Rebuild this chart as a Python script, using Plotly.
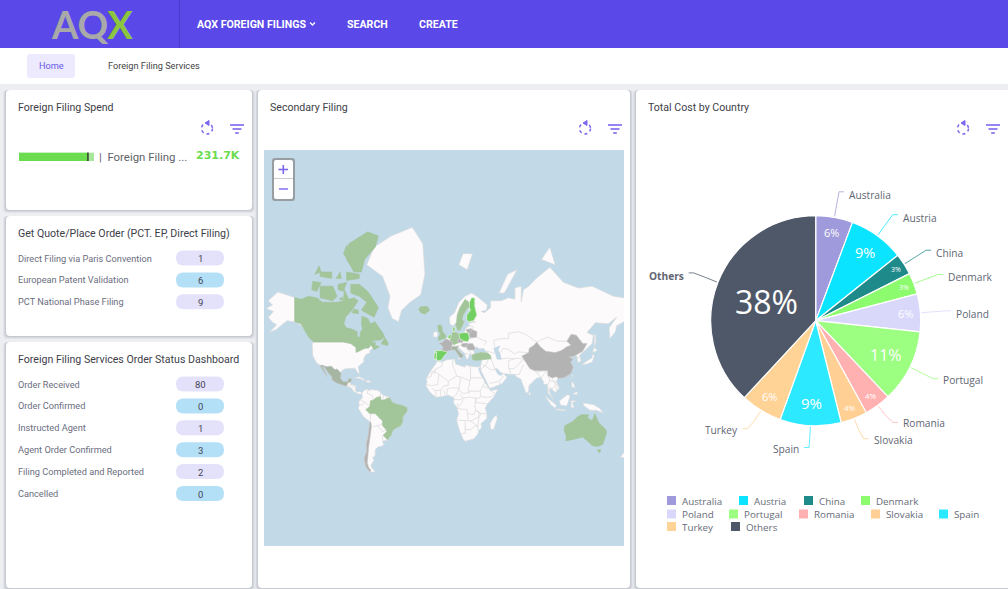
import math
import plotly.graph_objects as go

# ---------- data ----------
pie_countries = ["Australia","Austria","China","Denmark","Poland","Portugal","Romania","Slovakia","Spain","Turkey","Others"]
pie_values = [5.7,8.6,3.3,3.3,5.8,11.2,4.1,4.1,9.4,6.4,38.1]
pie_colors = ["#9E9ADB","#0AE4FF","#1F8A8A","#8CFB6E","#D9D8FB","#9CFF82","#FFB1B1","#FFCF94","#2DE9FF","#FFD295","#4F5869"]
pie_text_sizes = [11,14.5,7,7,11,16,8,8,15,11,32]

quote_labels = ["Direct Filing via Paris Convention","European Patent Validation","PCT National Phase Filing"]
quote_values = [1,6,9]
status_labels = ["Order Received","Order Confirmed","Instructed Agent","Agent Order Confirmed","Filing Completed and Reported","Cancelled"]
status_values = [80,0,1,3,2,0]

spend_value = [231.7]
spend_range = [252]

# country outlines, (longitude, latitude), read roughly from the map
greenland = [(-73,78),(-66,81),(-50,82.5),(-30,83.5),(-20,81.5),(-18,76),(-22,70.5),(-32,68),(-40,65),(-43,60),(-49,61.5),(-53,66),(-51,70),(-58,75.5)]
alaska = [(-141,69.6),(-141,60),(-135,59),(-131,55),(-134,58),(-140,59.8),(-148,60.5),(-152,59),(-158,56.3),(-165,54.5),(-158,58.5),(-162,59.8),(-166,62),(-161,64.5),(-168,65.7),(-162,67),(-166,68.5),(-157,71.3)]
usa = [(-123,49),(-95,49),(-88,48),(-83,45.5),(-83,42.2),(-79,43.5),(-75,45),(-71,45.2),(-69,47.3),(-67,45.2),(-70,43.5),(-70,41.7),(-74,40.5),(-76,37),(-75.5,35.3),(-81,31.5),(-80,27),(-80.5,25.2),(-82.5,27.5),(-84,30),(-89,30),(-94,29.5),(-97.3,27.5),(-97.2,25.9),(-101,29.5),(-103,29),(-106.5,31.8),(-111,31.3),(-114.8,32.5),(-117.2,32.5),(-120.5,34.5),(-124,40),(-124.5,48)]
central_america = [(-92.2,14.6),(-90.5,17.8),(-88,18.3),(-88.5,16),(-83.3,15),(-83.6,11),(-82.5,9.3),(-79.5,9.5),(-77.3,8.6),(-78,7.3),(-80.5,7.3),(-83,8.2),(-85.7,10),(-87.5,13)]
cuba = [(-85,22),(-80,23),(-74.2,20.2),(-77.5,19.9),(-78,21)]
hispaniola = [(-74.4,18.5),(-72,20),(-68.4,18.6),(-71,18)]
south_america = [(-77.3,8.6),(-75.5,10.8),(-72,12),(-71.5,10.5),(-68,11.5),(-62,10.7),(-60,8.5),(-57,6),(-52,4.8),(-50,1),(-48,-1),(-44,-2.5),(-39,-3.5),(-35,-5.5),(-35,-9),(-39,-14),(-39,-18),(-41,-22),(-45,-23.7),(-48.5,-26),(-50,-30),(-53.5,-34),(-58,-34.5),(-57,-38),(-62,-39),(-65,-41),(-65,-45),(-67.5,-46.5),(-66,-48),(-69,-51),(-68.5,-52.5),(-65,-55),(-70,-55),(-74,-52),(-75.5,-47),(-73,-42),(-73.5,-37),(-71.5,-30),(-70,-18.5),(-76,-14),(-81,-6),(-80,-3),(-80.5,0),(-77,4),(-77.5,7)]
africa = [(-6,35.8),(-2,35),(3,36.9),(10,37.3),(11,33.5),(15,32.3),(20,31),(20,32.8),(25,31.7),(32,31.2),(34.3,31.3),(32.5,29.5),(35,24),(37.3,21),(38.5,18),(43,12),(44,10.5),(51,11.8),(47,4.5),(41,-2),(39,-6),(40.5,-11),(40.5,-15.5),(35,-20),(35.5,-24),(32.8,-26),(32,-29),(28,-33),(20,-34.8),(18,-33),(15,-27),(11.8,-17),(13.7,-11),(12,-5),(9,-1),(9.7,3.5),(8,4.5),(4,6.3),(-2,5),(-7.5,4.3),(-13,8.7),(-17,14.7),(-16,19),(-17,21),(-13,27.5),(-9.8,31.5)]
madagascar = [(49.5,-12),(50.3,-15.5),(47,-25),(44,-25),(43.5,-20),(46,-15.8)]
eurasia = [(-9,37),(-9.5,38.7),(-9,43.2),(-2,43.4),(-1,46),(-4.5,48.4),(-1.5,48.7),(1.5,50.9),(4,52),(8,53.8),(8.5,57),(10.5,57.5),(10,54.8),(14,54),(19,54.5),(21,57),(24,58),(23.5,59.3),(30,60),(23,60),(21.5,61),(21.5,63),(25,65),(22,65.8),(18,63),(17,61),(19,60),(16,56.5),(14,55.5),(12.8,56),(11,59),(8,58),(5.5,59),(5,62),(10,64),(14,68),(20,70),(26,71),(31,70),(41,67),(40,65),(35,64.5),(38,64),(44,66),(44,68.5),(54,68.5),(61,69.5),(67,69),(67,72.5),(73,73),(73,68),(75,72),(80,73),(87,75),(100,77.5),(113,74),(127,72.5),(140,73),(160,70),(170,69.5),(180,69),(180,65),(177,62.5),(170,60),(163,58),(162,55),(156.7,51),(156,57),(163,62),(155,59),(143,59.5),(135,54.5),(141,53),(140,48),(132,43),(128,40),(129.5,36),(126.5,34.5),(126,37.5),(125,39.7),(121,39),(118,39),(122,37),(119.5,35),(122,31),(120,26),(114,22.3),(108,21.5),(106,19),(109,13),(105,8.7),(100.5,13.3),(99.5,9.5),(103.5,1.3),(100.5,6),(98.3,8),(97.5,16.5),(94,16),(94,19),(91,22.5),(87,21.5),(80.2,15),(80,10),(77.5,8),(73,19),(72.5,21),(69,22.5),(66.5,25),(57,25.5),(54,26.5),(50,30),(48,30),(51,25),(54,24),(56,26),(59.5,22.5),(55,17),(45,13),(43,13),(39,21),(35,28),(34.3,31.3),(35.8,35.5),(36,36.8),(30,36.3),(27,37),(26.5,40),(29,41),(35,42),(41.5,41.5),(37,45),(33.5,44.5),(30.5,46),(28,43),(29,41),(26,40.7),(24,40.7),(23,38),(21.5,37),(19.5,41.5),(14,45.2),(12.5,44.5),(16,41.5),(18.5,40),(16,38),(13,41),(10,44),(7,43.7),(3,43.2),(0,39.5),(-2,36.8),(-5.5,36)]
ireland = [(-10,52),(-6,52),(-6,54.8),(-8.5,55),(-10,54)]
svalbard = [(14,78),(22,77),(27,80),(18,80)]
novaya_zemlya = [(52,71),(57,71),(69,77),(60,76)]
severnaya = [(92,79),(105,78),(100,81)]
honshu = [(130,33),(135,33.5),(140,35),(142,40),(140.5,41),(139.5,38),(136,36.5),(131,34)]
hokkaido = [(140,42),(145,43.5),(142,45.5)]
sakhalin = [(142,46),(143.5,49),(143,54),(142,53)]
sumatra = [(95.5,5.5),(106,-3),(105.5,-6),(101,-3)]
java = [(105.5,-6.5),(114.5,-7.5),(114.5,-8.5),(106,-7.5)]
borneo = [(109,1),(117,7),(119,5),(117.5,1),(116,-4),(110,-3)]
sulawesi = [(120,1),(125,1),(121,-1),(123,-5),(120,-5.5)]
new_guinea = [(131,-1),(141,-2.6),(147,-6),(150.5,-10.5),(144,-8),(138,-8),(132.5,-4)]
luzon = [(120.5,18.5),(122,18),(124,13),(120.5,14)]
mindanao = [(122,7),(126,7),(126,9.5),(123,8.5)]
sri_lanka = [(80,9.5),(82,7.5),(80.5,6)]
nz_north = [(173,-35),(178.5,-38),(175,-41.5),(174,-39)]
nz_south = [(172.5,-41),(174,-42),(170,-46.5),(166.5,-46)]
sicily = [(12.5,38),(15.5,38.2),(15,36.7)]
taiwan = [(121,25),(122,25),(120.8,22)]
caspian = [(47,45),(53,46.5),(51,44),(53,41),(54,37),(50,37.3),(49,40.5)]

canada = [(-141,69.6),(-135,69),(-128,70),(-120,69.5),(-115,68),(-108,68),(-100,68),(-95,68.5),(-94,72),(-90,69),(-85,69.5),(-81,68.5),(-87,65),(-93,62),(-94.5,59),(-92.5,57),(-88,56.5),(-82,55),(-82,52.5),(-79.5,51.5),(-79,54.5),(-77,56.5),(-78,59),(-77.5,62.5),(-72,61.5),(-69.5,59),(-65,60),(-62,57.5),(-58,54.5),(-56,52),(-60,50.2),(-66,50),(-69,48),(-65,49),(-65,47),(-61,46),(-66,44),(-67,45.2),(-69,47.3),(-71,45.2),(-75,45),(-79,43.5),(-83,42.2),(-83,45.5),(-88,48),(-95,49),(-123,49),(-128,52),(-131,55),(-135,59),(-141,60)]
baffin = [(-62,66),(-66,62),(-72,63.5),(-78,65),(-73,68),(-80,70),(-88,71),(-88,73.5),(-80,73.5),(-72,71.5),(-67,69)]
ellesmere = [(-62,82.5),(-72,83),(-90,81.5),(-92,79),(-85,76.5),(-78,76.5),(-75,79),(-65,81)]
victoria_island = [(-117,69.5),(-105,68.5),(-101,70),(-105,73),(-117,73)]
banks_island = [(-125,72),(-120,71.5),(-116,74),(-124,74.3)]
devon_island = [(-80,75),(-92,74.5),(-92,76.5),(-80,76)]
axel_heiberg = [(-95,80),(-88,78),(-87,80),(-92,81.3)]
melville_island = [(-117,75.5),(-106,75),(-106,76.5),(-117,76.5)]
newfoundland = [(-59,47.7),(-53,46.7),(-53,49),(-56,51.5),(-59,48.5)]
southampton = [(-87,64),(-81,63.5),(-81,65),(-85,65.5)]
somerset = [(-100,72),(-95,71.5),(-92,74),(-100,73.5)]
prince_patrick = [(-122,76),(-116,76.5),(-118,77.8)]
bathurst_island = [(-102,75),(-97,75),(-98,76.5)]
king_william = [(-99,69),(-95.5,68.8),(-96,69.8)]
brazil = [(-60,5),(-59.5,1.5),(-56,2),(-51.5,4),(-50,1),(-48,-1),(-44,-2.5),(-39,-3.5),(-35,-5.5),(-35,-9),(-39,-14),(-39,-18),(-41,-22),(-45,-23.7),(-48.5,-26),(-50,-30),(-53.5,-33.7),(-57.5,-30),(-54,-27),(-54.5,-25.5),(-58,-22),(-58,-17.5),(-60,-16),(-65,-11),(-70,-11),(-74,-7.5),(-70,-4.3),(-69.5,1),(-67,1.5),(-64,4)]
australia = [(114,-22),(122,-18),(126,-14),(130,-12),(136.5,-12),(135.5,-15),(140,-17.5),(142.5,-11),(146,-19),(153,-25.5),(153.5,-28),(150,-37),(145,-38.8),(140,-38),(136,-35),(131,-31.5),(124,-33),(115,-34.5),(115.5,-31),(113.5,-26)]
tasmania = [(144.8,-41),(148,-41),(147,-43.5)]
uk = [(-5.5,50),(1.5,51.3),(1.5,53),(-1.5,55),(-2,57.5),(-3.5,58.6),(-6,58),(-5,55),(-3,54),(-5,52)]
germany = [(6,51),(7,53.5),(9,54.8),(14,54),(15,51),(12.5,50.3),(13.5,48.5),(10,47.5),(7.5,47.6),(8,49),(6,50)]
sweden = [(11,59),(12.8,56),(14,55.5),(16,56.5),(19,60),(17,61),(18,63),(22,65.8),(24,66),(23.5,68),(20,69),(15,66),(12.5,63),(12,60)]
iceland = [(-24,65.5),(-22,64),(-18,63.4),(-13.5,65),(-16,66.5),(-22,66.3)]
turkey = [(26.5,40),(27,37),(30,36.3),(36,36.8),(42,37),(44.5,37.5),(44,40),(41.5,41.5),(35,42),(29,41)]

finland = [(21.5,61),(23,60),(28,60.5),(31,63),(29,66.5),(29,69.5),(26,69.5),(24,68),(24,66),(25,65),(21.5,63)]
poland = [(14,54),(19,54.5),(23,54.3),(24,51),(22.5,49.2),(19,49.5),(15,51)]
spain = [(-9,43.2),(-2,43.4),(3,42.4),(3,41.8),(0,39.5),(-2,36.8),(-5.5,36),(-7.4,37.2),(-7,42)]
portugal = [(-9,37),(-9.5,38.7),(-9,42),(-7,42),(-7.4,37.2)]
denmark = [(8.2,55),(8.5,57),(10.5,57.5),(10,55)]
netherlands = [(3.5,51.4),(4.7,53),(7,53.4),(6,51)]

mexico = [(-117.2,32.5),(-114.8,32.5),(-111,31.3),(-106.5,31.8),(-103,29),(-101,29.5),(-97.2,25.9),(-97.8,22),(-95.5,18.8),(-91,18.5),(-90.5,21),(-87,21.5),(-88,18.3),(-90.5,17.8),(-92.2,14.6),(-96,15.8),(-101,17.3),(-105.5,20),(-106,23),(-109,26),(-113,31),(-114.8,31.5),(-112,26.5),(-110,23),(-112,25),(-115,29)]
italy = [(7,43.7),(10,44),(13,41),(16,38),(18.5,40),(16,41.5),(12.5,44.5),(13.7,46.5),(7,46)]
france = [(-1.8,43.4),(-1,46),(-4.5,48.4),(-1.5,48.7),(1.5,50.9),(4,50),(8,49),(7.5,47.5),(7,43.7),(3,43.2),(3,42.4)]
china = [(73.5,39.5),(80,42),(80.5,45),(85,47),(87.5,49),(91,46),(96,43),(105,42),(111,43.5),(116,46),(120,47),(116,49.5),(120,53.5),(125,53),(131,48),(135,48),(131,43),(128,41.5),(124,40),(121,39),(118,39),(122,37),(119.5,35),(122,31),(120,26),(114,22.3),(108,21.5),(106,23),(102,22),(98,24),(98,28),(92,28),(86,28),(81,30),(78.5,33),(75,37)]
chile = [(-70.2,-18.5),(-69,-19),(-68.5,-23),(-69.8,-30),(-70,-33),(-71,-38),(-71.7,-44),(-72.5,-50),(-71,-52.5),(-69,-54),(-70,-55),(-74,-52),(-75.5,-47),(-73,-42),(-73.5,-37),(-71.5,-30)]
romania = [(22,47.7),(27,48),(29.5,45),(28.5,43.8),(23,43.8),(21,46)]
belarus = [(23.5,52),(24,54),(27,56),(31,55),(31,52),(25,51.5)]
lithuania = [(21,56),(25,56.5),(27,56),(24,54),(22,54.5)]
czechia = [(12.5,50.3),(15,51),(18.8,49.5),(16.5,48.7),(13.5,48.5)]
hungary = [(16.2,47),(17,48),(22,48.3),(22,47.7),(21,46),(18,45.8)]

# internal borders of the white land
borders = [
 [(-92.2,14.6),(-89,14.5),(-88.5,16)], [(-87.5,13),(-84,15)], [(-85.7,11),(-83.6,11)], [(-83,8.2),(-82.5,9.3)],
 [(-71.5,12),(-72.5,8),(-67.5,6),(-67,1.5)], [(-60,8.5),(-60,5)], [(-57,6),(-58,2)], [(-54,5.8),(-54.5,2.3)],
 [(-78.5,1.3),(-75,0),(-70,-4.3)], [(-80,-3.5),(-75,-1.5)], [(-69,-11),(-69.5,-17.5),(-70,-18.5)],
 [(-67,-22.8),(-62.5,-22),(-58,-20)], [(-62.5,-22),(-58,-27),(-54.5,-25.5)], [(-58,-34),(-58,-30.2)],
 [(-2,35),(-1.5,32),(-8.7,29),(-8.7,27.5)], [(-13,27.7),(-8.7,27.7),(-8.7,26),(-12,26),(-12,23.5),(-17,21.3)],
 [(-8.7,27.3),(-4.8,25),(-6,16),(-12,15),(-16.5,16.2)], [(-4.8,25),(1,21),(4,19),(12,23.5),(9.5,30),(8,33),(8.5,37)],
 [(25,31.7),(25,20),(24,19.5),(24,15.5)], [(12,23.5),(15,23),(24,19.5)], [(25,22),(36.9,22)],
 [(4,19),(4,15),(0,15),(-3,11),(-8,10.5),(-11.5,12.5)], [(15,23),(15.5,20),(14,13),(15,10),(18,8),(24,8.5),(22.5,12),(24,15.5)],
 [(3,12),(7,13),(14,13)], [(14,13),(12,7),(8.5,4.5)], [(2.7,6.3),(3,12)], [(1,6),(0,11)], [(-3,5),(-3,11)], [(-7.5,4.3),(-8,10.5)],
 [(24,8.5),(24,10),(34,10),(35,5)], [(36.5,14.5),(34,10)], [(38.5,18),(36.5,14.5),(43,12.5)],
 [(43,11),(48,8),(45,5),(41,4),(35,5),(34,4)], [(41,-2),(34,-1)], [(34,4),(30,3.5),(30,-1),(34,-1)],
 [(12,-6),(14,-4.5),(17,-1),(18,3.5),(24,4.5),(30,3.5),(29,-4),(30,-8),(28,-12),(22,-11),(21.8,-7),(17,-7),(12.2,-6)],
 [(15,7),(18,3.5)], [(9.7,2.2),(15,2),(17,3)], [(11,-3.5),(14,-2)], [(11.8,-17),(23,-17.5),(22,-11)],
 [(23,-17.5),(25,-17.8),(33,-14),(33,-9.5),(30,-8)], [(20,-18),(20,-28.5),(16.5,-28.5)],
 [(20,-25),(25,-25.5),(29,-22.3),(32,-22.3),(25.3,-17.8)], [(32,-26),(32,-22.3),(33,-14),(35,-11),(40.5,-11)], [(30,-8),(35,-11)],
 [(87.5,49),(92,50.5),(98,52),(103,50.5),(108,49.5),(116,49.5)], [(31,52),(35,50.5),(40,49.5),(38,47)],
 [(48,46),(47,50),(53,51),(61,51),(61,54),(70,55),(77,53.5),(85,50),(87.5,49)], [(53,42),(56,45),(61,44),(67,41),(70,42.5),(80,42)],
 [(54,37.5),(60,38),(66,37.5)], [(44.5,37.5),(46,34),(48,30)], [(61,36),(61,31),(63,26)], [(34.8,29.5),(39,32),(44,29),(48,29)],
 [(43,17),(52,19),(53,16)], [(52,19),(55,22),(56,24)], [(36,33),(39,32),(42,37)], [(61,36),(66,37.5),(71,38),(75,37)],
 [(61,30),(66,29.5),(71,34),(75,37)], [(66.5,25),(71,25),(75,33)], [(81,30),(88,26.5),(92,28)], [(88,26),(92,22)],
 [(92,22),(94,25),(98,28)], [(98,24),(100,20),(98,15),(99,10)], [(100,20),(105,18),(105,14),(102,12.5)], [(102,22),(105,18),(107,15),(106,11)],
 [(40,43),(48,41.5)], [(24,51),(31,52)], [(22.5,49.2),(29,45.5)], [(19,46),(23,43.8),(26,41.8)], [(19.5,41.5),(23,41),(26,41.8)],
 [(2.5,50.5),(6,50.5)], [(7,46),(10,47)], [(13.7,46.5),(16.2,47)], [(21,56),(28,57)], [(24,58),(28,57.5)], [(124,40),(128,38)],
 [(12,60),(12.5,63)], [(28,60.5),(31,63),(29,66.5),(29,69.5)], [(-7,42),(-7.4,37.2)], [(-1.8,43.4),(3,42.4)],
]

land_shapes = [greenland, alaska, usa, central_america, cuba, hispaniola, south_america, africa, madagascar, eurasia,
               ireland, svalbard, novaya_zemlya, severnaya, honshu, hokkaido, sakhalin, sumatra, java, borneo, sulawesi,
               new_guinea, luzon, mindanao, sri_lanka, nz_north, nz_south, sicily, taiwan]
green_shapes = [canada, baffin, ellesmere, victoria_island, banks_island, devon_island, axel_heiberg, melville_island,
                newfoundland, southampton, somerset, prince_patrick, bathurst_island, king_william,
                brazil, australia, tasmania, uk, germany, sweden, iceland, turkey]
bright_shapes = [finland, poland, spain, portugal, denmark, netherlands]
mid_shapes = [mexico, italy]
gray_shapes = [china, france, chile, romania, belarus, lithuania, czechia, hungary]

W, H = 1008, 589
PURPLE = "#5A49E8"
ICON = "#7B68EE"
OCEAN = "#C2D9E8"
shapes, notes = [], []

def rrect(x0, y0, x1, y1, r, fill, layer="below", line=None, opacity=None):
    p = (f"M{x0+r},{y0} L{x1-r},{y0} Q{x1},{y0} {x1},{y0+r} L{x1},{y1-r} Q{x1},{y1} {x1-r},{y1} "
         f"L{x0+r},{y1} Q{x0},{y1} {x0},{y1-r} L{x0},{y0+r} Q{x0},{y0} {x0+r},{y0} Z")
    s = dict(type="path", path=p, xref="x", yref="y", fillcolor=fill, layer=layer,
             line=dict(width=0) if line is None else line)
    if opacity is not None:
        s["opacity"] = opacity
    shapes.append(s)

def text(x, y, t, size=11, color="#444", font="Roboto", anchor="left"):
    # annotation boxes carry about 2px of padding
    x = x - 2 if anchor == "left" else x + 2 if anchor == "right" else x
    notes.append(dict(x=x, y=y, xref="x", yref="y", text=t, showarrow=False, xanchor=anchor, yanchor="middle",
                      font=dict(family=font, size=size, color=color)))

def hline(x0, y0, x1, y1, color, width=1, layer="below", dash=None):
    shapes.append(dict(type="line", x0=x0, y0=y0, x1=x1, y1=y1, xref="x", yref="y", layer=layer,
                       line=dict(color=color, width=width, dash=dash or "solid")))

def card(x0, y0, x1, y1, title):
    for i, a in ((3, .10), (2, .14), (1, .2)):
        rrect(x0 - i, y0, x1 + i, y1 + i, 4, "#8A8F9C", opacity=a)
    rrect(x0, y0, x1, y1, 4, "#FFFFFF")
    if title:
        text(x0 + 12, y0 + 17, title, size=10.6, color="#3D4048")

def icons(cx):
    shapes.append(dict(type="circle", x0=cx-5.5, y0=123, x1=cx+5.5, y1=134, xref="x", yref="y", layer="below",
                       line=dict(color=ICON, width=1.5, dash="dot")))
    shapes.append(dict(type="path", path=f"M{cx+2},120.5 L{cx+2},125.5 L{cx-2},123 Z", xref="x", yref="y", layer="below",
                       fillcolor=ICON, line=dict(width=1, color=ICON)))
    fx = cx + 30
    hline(fx-7, 125, fx+7, 125, ICON, 1.6)
    hline(fx-4.5, 129, fx+4.5, 129, ICON, 1.6)
    hline(fx-1.8, 133, fx+1.8, 133, ICON, 1.6)

# ---------- page chrome ----------
shapes.append(dict(type="rect", x0=0, y0=0, x1=W, y1=H, xref="x", yref="y", layer="below", fillcolor="#ECEEF2", line=dict(width=0)))
shapes.append(dict(type="rect", x0=0, y0=0, x1=W, y1=48, xref="x", yref="y", layer="below", fillcolor=PURPLE, line=dict(width=0)))
shapes.append(dict(type="rect", x0=0, y0=48, x1=W, y1=84, xref="x", yref="y", layer="below", fillcolor="#FFFFFF", line=dict(width=0)))
hline(179.5, 0, 179.5, 48, "#4C3CD0", 1)
notes.append(dict(x=49, y=24, xref="x", yref="y", showarrow=False, xanchor="left", yanchor="middle",
                  text='<b><span style="color:#A9A9A9">AQ</span><span style="color:#8CC63F">X</span></b>',
                  font=dict(family="Lato", size=38)))
text(197, 24, "<b>AQX FOREIGN FILINGS</b>", 10.6, "#FFFFFF")
shapes.append(dict(type="path", path="M310,22.5 L312.5,25 L315,22.5", xref="x", yref="y", layer="below", line=dict(color="#FFFFFF", width=1.3)))
text(347, 24, "<b>SEARCH</b>", 10.6, "#FFFFFF")
text(419, 24, "<b>CREATE</b>", 10.6, "#FFFFFF")
rrect(27, 54, 75, 78, 3, "#ECEAFC")
text(51, 65.5, "Home", 9.2, "#6A5BE8", anchor="center")
text(108, 65.5, "Foreign Filing Services", 9.2, "#444444")

# ---------- cards ----------
card(6, 90, 252, 210, "Foreign Filing Spend")
card(6, 216, 252, 336, "Get Quote/Place Order (PCT. EP, Direct Filing)")
card(6, 342, 252, 588, "Foreign Filing Services Order Status Dashboard")
card(258, 90, 630, 588, "Secondary Filing")
card(636, 90, 1012, 588, "Total Cost by Country")
for c in (207, 585, 963):
    icons(c)
shapes.append(dict(type="rect", x0=264, y0=150, x1=624, y1=546, xref="x", yref="y", layer="below", fillcolor=OCEAN, line=dict(width=0)))

# bullet text
text(99, 156.5, "|  Foreign Filing ...", 11.4, "#5F6368")
text(196, 155.5, "<b>231.7K</b>", 11, "#6BDB50", font="DejaVu Sans")

# pills
def pill_rows(labels, values, y0):
    for i, (l, v) in enumerate(zip(labels, values)):
        y = y0 + i * 21.9
        text(18, y, l, 9.2, "#6B6E80")
        rrect(176, y - 7.5, 224, y + 7.5, 7.5, "#E4E1FA" if i % 2 == 0 else "#B3E0F7")
        text(200, y + .5, str(v), 9.5, "#444455", anchor="center")

pill_rows(quote_labels, quote_values, 258)
pill_rows(status_labels, status_values, 384)

# map zoom control
rrect(272, 158, 295, 201, 3, "#888888", layer="above", opacity=.75)
rrect(274, 160, 293, 199, 2, "#FFFFFF", layer="above")
hline(274, 178.5, 293, 178.5, "#CCCCCC", 1, layer="above")
hline(278.5, 169.5, 288, 169.5, ICON, 1.6, layer="above")
hline(283.3, 165, 283.3, 174, ICON, 1.6, layer="above")
hline(279, 189, 288, 189, ICON, 1.4, layer="above")

# ---------- pie outside labels, leader lines and inside percentages ----------
PCX, PCY, PR = 815.7, 320.7, 105
total = sum(pie_values)
cum = 0
for name, v, col, ts in zip(pie_countries, pie_values, pie_colors, pie_text_sizes):
    share = v / total * 100
    mid = math.radians((cum + v / 2) / total * 360)
    cum += v
    sx, sy = math.sin(mid), -math.cos(mid)
    ex, ey = PCX + (PR + 26) * sx, PCY + (PR + 26) * sy
    if sy > 0.5:
        ey -= 4
    bx, by = PCX + (PR + 1) * sx, PCY + (PR + 1) * sy
    qx, qy = PCX + (PR + 14) * sx, PCY + (PR + 14) * sy
    left = sx >= 0
    tailx = ex + (5 if left else -5)
    shapes.append(dict(type="path", path=f"M{bx:.1f},{by:.1f} Q{qx:.1f},{qy:.1f} {ex:.1f},{ey:.1f} L{tailx:.1f},{ey:.1f}",
                       xref="x", yref="y", layer="above", line=dict(color=col, width=1), opacity=.75))
    lab = f"<b>{name}</b>" if name == "Others" else name
    text(tailx + (5 if left else -5), ey + (3 if sy < 0 else 1), lab, 10.2, "#5F6673", font="Open Sans", anchor="left" if left else "right")
    frac = max(.5, .97 - .02 * share)
    notes.append(dict(x=PCX + PR * frac * sx, y=PCY + PR * frac * sy, xref="x", yref="y", showarrow=False,
                      text=f"{round(share)}%", xanchor="center", yanchor="middle",
                      font=dict(family="Open Sans", size=ts, color="#FFFFFF")))

# legend
legend_x = [667,739,804,861, 667,729,799,871,939, 667,731]
legend_y = [500.5]*4 + [514]*5 + [526.5]*2
for name, col, x, y in zip(pie_countries, pie_colors, legend_x, legend_y):
    shapes.append(dict(type="rect", x0=x, y0=y-4.5, x1=x+9, y1=y+4.5, xref="x", yref="y", layer="below", fillcolor=col, line=dict(width=0)))
    text(x + 15, y + .5, name, 9.8, "#666B78", font="Open Sans")

# ---------- traces ----------
fig = go.Figure()
fig.add_trace(go.Scatter(x=[0, W], y=[0, H], mode="markers", marker=dict(opacity=0, size=1), hoverinfo="skip", showlegend=False))

fig.add_trace(go.Bar(x=spend_range, y=[0], orientation="h", marker=dict(color="#A6E79A", line=dict(width=0)), width=1,
                     xaxis="x2", yaxis="y2", showlegend=False, hoverinfo="skip"))
fig.add_trace(go.Bar(x=spend_value, y=[0], orientation="h", marker=dict(color="#6BDB50", line=dict(width=0)), width=1,
                     xaxis="x2", yaxis="y2", showlegend=False, hoverinfo="skip"))
fig.add_trace(go.Scatter(x=[spend_value[0]]*2, y=[-.6, .6], mode="lines", line=dict(color="#222", width=1.3),
                         xaxis="x2", yaxis="y2", showlegend=False, hoverinfo="skip", cliponaxis=False))

fig.add_trace(go.Pie(labels=pie_countries, values=pie_values, sort=False, direction="clockwise", rotation=0,
                     marker=dict(colors=pie_colors, line=dict(color="#FFFFFF", width=1.2)),
                     textinfo="none", showlegend=False, hoverinfo="label+percent",
                     domain=dict(x=[(PCX-PR)/W, (PCX+PR)/W], y=[1-(PCY+PR)/H, 1-(PCY-PR)/H])))

def merc(lat):
    return math.log(math.tan(math.pi / 4 + math.radians(lat) / 2))

def flat(rings, close=True):
    xs, ys = [], []
    for r in rings:
        pts = r + r[:1] if close else r
        xs += [p[0] for p in pts] + [None]
        ys += [merc(p[1]) for p in pts] + [None]
    return xs, ys

def map_fill(rings, color, line="#DADADA"):
    xs, ys = flat(rings)
    fig.add_trace(go.Scatter(x=xs, y=ys, mode="lines", fill="toself", fillcolor=color, line=dict(color=line, width=.6),
                             xaxis="x3", yaxis="y3", showlegend=False, hoverinfo="skip"))

map_fill(land_shapes, "#FCFAFB")
map_fill([caspian], OCEAN, OCEAN)
bx_, by_ = flat(borders, close=False)
fig.add_trace(go.Scatter(x=bx_, y=by_, mode="lines", line=dict(color="#DADADA", width=.7), xaxis="x3", yaxis="y3",
                         showlegend=False, hoverinfo="skip"))
map_fill(green_shapes, "#A3C59A", "#A3C59A")
map_fill(mid_shapes, "#A7B5A3", "#C8C8C8")
map_fill(gray_shapes, "#B3B3B3", "#C8C8C8")
map_fill(bright_shapes, "#72CF62", "#E8F4E4")

fig.update_layout(
    width=W, height=H, margin=dict(l=0, r=0, t=0, b=0), autosize=False,
    paper_bgcolor="#ECEEF2", plot_bgcolor="rgba(0,0,0,0)", barmode="overlay",
    xaxis=dict(range=[0, W], domain=[0, 1], visible=False, fixedrange=True),
    yaxis=dict(range=[H, 0], domain=[0, 1], visible=False, fixedrange=True),
    xaxis2=dict(range=[0, spend_range[0]], domain=[19/W, 94/W], visible=False, anchor="y2", fixedrange=True),
    yaxis2=dict(range=[-.5, .5], domain=[1-161/H, 1-152.5/H], visible=False, anchor="x2", fixedrange=True),
    xaxis3=dict(range=[-170, 170], domain=[264/W, 624/W], visible=False, anchor="y3", fixedrange=True),
    yaxis3=dict(range=[-2.37, 4.14], domain=[1-546/H, 1-150/H], visible=False, anchor="x3", fixedrange=True),
    shapes=shapes, annotations=notes, hovermode="closest",
)
fig.write_html("out.html", config=dict(displayModeBar=False), post_script="document.body.style.margin='0';")
